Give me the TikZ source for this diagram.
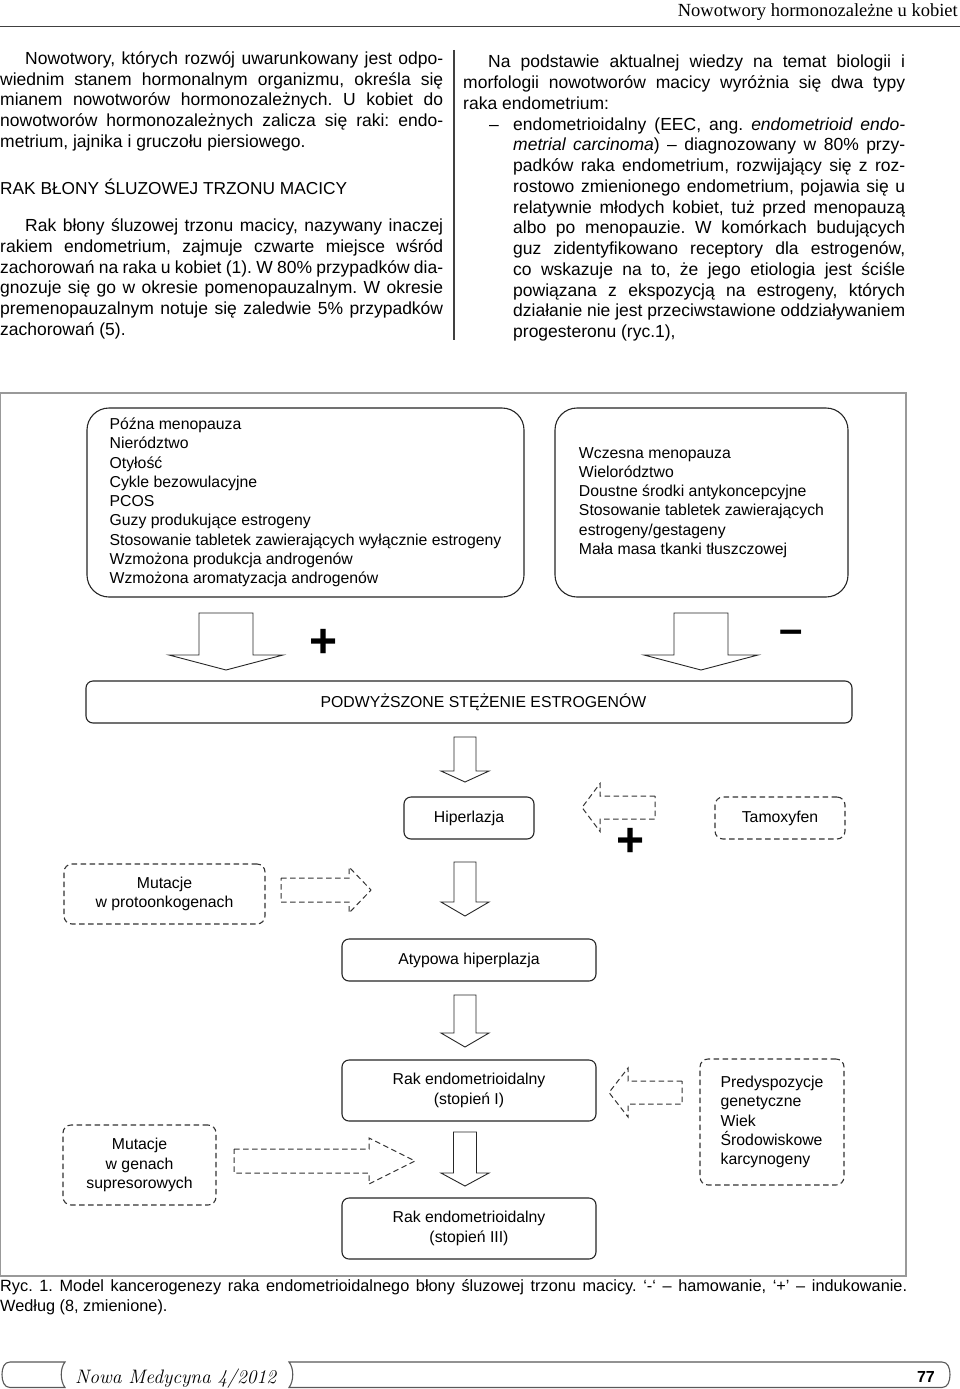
\documentclass[tikz,border=0pt]{standalone}
\usepackage{fontspec}
\newfontfamily\hsans{Liberation Sans}
\newfontfamily\tserif{Liberation Serif}
\usetikzlibrary{calc}
\newcommand\figfont{\hsans\fontsize{15.8}{19.3}\selectfont}
\newcommand\bodyfont{\hsans\fontsize{17.5}{20.75}\selectfont}
\newcommand\headfont{\hsans\fontsize{17.3}{20.75}\selectfont}
\newcommand\capfont{\hsans\fontsize{16.3}{19.4}\selectfont}
\newcommand\signfont{\hsans\bfseries\fontsize{48}{48}\selectfont}
\newcommand\justpar[2]{\parbox[t]{#1}{\frenchspacing\tolerance=10000\hyphenpenalty=10000\relax #2}}
\tikzset{
  solidbox/.style={draw=black!85, line width=1.1pt, rounded corners=7pt, inner sep=0pt, font=\figfont},
  dashbox/.style={draw=black!80, line width=1.1pt, dash pattern=on 5.5pt off 3.5pt, rounded corners=8pt, inner sep=0pt, font=\figfont},
  blockarrow/.style={draw=black!85, line width=0.9pt, fill=white, line join=miter},
  dasharrow/.style={draw=black!80, line width=1pt, dash pattern=on 5.5pt off 3.5pt},
  sign/.style={inner sep=0pt, font=\signfont},
  txt/.style={inner sep=0pt},
  frameline/.style={draw=black!40, line width=1.4pt},
  footline/.style={draw=black!65, line width=1.1pt},
}
% vertical hollow arrow: x, ytop, ybase, ytip, shaft half width, head half width
\newcommand\downblock[6]{%
  \draw[blockarrow] ({#1-#5},#2) -- ({#1+#5},#2) -- ({#1+#5},#3) -- ({#1+#6},#3) -- (#1,#4) -- ({#1-#6},#3) -- ({#1-#5},#3) -- cycle;}
% horizontal dashed hollow arrow: xtail, xbase, xtip, ycentre, shaft half width, head half width
\newcommand\sideblock[6]{%
  \draw[dasharrow] (#1,{#4-#5}) -- (#2,{#4-#5}) -- (#2,{#4-#6}) -- (#3,#4) -- (#2,{#4+#6}) -- (#2,{#4+#5}) -- (#1,{#4+#5}) -- cycle;}
\begin{document}
\begin{tikzpicture}[x=1pt,y=-1pt]
\path[fill=white,use as bounding box] (0,0) rectangle (960,1389);

% ---------- running head ----------
\node[txt, anchor=base east, font=\tserif\fontsize{18.5}{20}\selectfont] (runhead) at (958,17) {Nowotwory hormonozależne u kobiet};
\draw[black!75, line width=1.3pt] (0,26.7) -- (960,26.7);
\draw[black!75, line width=1.2pt] (454,50) -- (454,340);

% ---------- left column ----------
\node[txt, anchor=base west, font=\bodyfont] (para1) at (0,64.3) {\justpar{443pt}{\hspace*{25pt}Nowotwory, których rozwój uwarunkowany jest odpo-\linebreak wiednim stanem hormonalnym organizmu, określa się\linebreak mianem nowotworów hormonozależnych. U kobiet do\linebreak nowotworów hormonozależnych zalicza się raki: endo-\linebreak metrium, jajnika i gruczołu piersiowego.}};
\node[txt, anchor=base west, font=\headfont] (heading) at (0,194) {RAK BŁONY ŚLUZOWEJ TRZONU MACICY};
\node[txt, anchor=base west, font=\bodyfont] (para2) at (0,231.7) {\justpar{443pt}{\hspace*{25pt}Rak błony śluzowej trzonu macicy, nazywany inaczej\linebreak rakiem endometrium, zajmuje czwarte miejsce wśród\linebreak zachorowań na raka u kobiet (1). W 80\% przypadków dia-\linebreak gnozuje się go w okresie pomenopauzalnym. W okresie\linebreak premenopauzalnym notuje się zaledwie 5\% przypadków\linebreak zachorowań (5).}};

% ---------- right column ----------
\node[txt, anchor=base west, font=\bodyfont] (para3) at (463,67.7) {\justpar{442pt}{\hspace*{25pt}Na podstawie aktualnej wiedzy na temat biologii i\linebreak morfologii nowotworów macicy wyróżnia się dwa typy\linebreak raka endometrium:}};
\node[txt, anchor=base west, font=\bodyfont] (itemdash) at (489,130) {–};
\node[txt, anchor=base west, font=\bodyfont] (item) at (513,130) {\justpar{392pt}{endometrioidalny (EEC, ang. \textit{endometrioid endo-}\linebreak \textit{metrial carcinoma}) – diagnozowany w 80\% przy-\linebreak padków raka endometrium, rozwijający się z roz-\linebreak rostowo zmienionego endometrium, pojawia się u\linebreak relatywnie młodych kobiet, tuż przed menopauzą\linebreak albo po menopauzie. W komórkach budujących\linebreak guz zidentyfikowano receptory dla estrogenów,\linebreak co wskazuje na to, że jego etiologia jest ściśle\linebreak powiązana z ekspozycją na estrogeny, których\linebreak działanie nie jest przeciwstawione oddziaływaniem\linebreak progesteronu (ryc.1),}};

% ---------- figure frame ----------
\draw[frameline] (0.7,393) rectangle (906,1276);

% top boxes
\node[solidbox, rounded corners=22pt, minimum width=437, minimum height=189, align=left] (lb) at (305.5,502.5)
  {Późna menopauza\\Nierództwo\\Otyłość\\Cykle bezowulacyjne\\PCOS\\Guzy produkujące estrogeny\\Stosowanie tabletek zawierających wyłącznie estrogeny\\Wzmożona produkcja androgenów\\Wzmożona aromatyzacja androgenów};
\node[solidbox, rounded corners=22pt, minimum width=293, minimum height=189, align=left] (rb) at (701.5,502.5)
  {Wczesna menopauza\\Wielorództwo\\Doustne środki antykoncepcyjne\\Stosowanie tabletek zawierających\\estrogeny/gestageny\\Mała masa tkanki tłuszczowej};

% arrows into estrogen box
\downblock{226}{613}{655}{670}{27}{57}
\downblock{701}{613}{655}{670}{27}{57}
\node[sign] (plusA) at (324,643) {+};
\node[sign, font=\hsans\bfseries\fontsize{42}{42}\selectfont] (minusA) at (791,637) {–};

\node[solidbox, minimum width=766, minimum height=42] (est) at (469,702) {};
\node[txt, font=\figfont] (estlabel) at (483.5,702) {PODWYŻSZONE STĘŻENIE ESTROGENÓW};

\downblock{465}{737}{771}{782}{11}{24}

% hiperplazja row
\node[solidbox, minimum width=130, minimum height=42] (hip) at (469,818) {Hiperlazja};
\node[dashbox, minimum width=130, minimum height=42] (tam) at (780,818) {Tamoxyfen};
\sideblock{655}{600}{582}{807.5}{11.5}{24}
\node[sign] (plusB) at (631,842) {+};

\downblock{465}{862}{902}{916}{11}{24}

\node[dashbox, minimum width=201, minimum height=60, align=center] (mutp) at (164.5,894) {Mutacje\\w protoonkogenach};
\sideblock{281}{349}{371}{890}{12}{23}

\node[solidbox, minimum width=254, minimum height=42] (atyp) at (469,960) {Atypowa hiperplazja};

\downblock{465}{995}{1033}{1047}{11}{24}

\node[solidbox, minimum width=254, minimum height=61, align=center] (rak1) at (469,1090.5) {Rak endometrioidalny\\(stopień I)};
\node[dashbox, minimum width=144, minimum height=126, align=left] (pred) at (772,1122) {Predyspozycje\\genetyczne\\Wiek\\Środowiskowe\\karcynogeny};
\sideblock{682}{628}{609}{1092.5}{11.5}{24.5}

\downblock{465}{1132}{1173}{1186}{11.5}{24}

\node[dashbox, minimum width=153, minimum height=80, align=center] (muts) at (139.5,1165) {Mutacje\\w genach\\supresorowych};
\sideblock{234}{369}{415}{1161}{12}{23}

\node[solidbox, minimum width=254, minimum height=61, align=center] (rak3) at (469,1228.5) {Rak endometrioidalny\\(stopień III)};

% caption
\node[txt, anchor=base west, font=\capfont] (caption) at (0,1291.7) {\justpar{907pt}{Ryc. 1. Model kancerogenezy raka endometrioidalnego błony śluzowej trzonu macicy. ‘-‘ – hamowanie, ‘+’ – indukowanie.\linebreak Według (8, zmienione).}};

% ---------- footer ----------
\draw[footline] (65,1362) -- (10,1362) .. controls (4,1362) and (2,1368) .. (2,1374.5) .. controls (2,1381) and (4,1387.5) .. (10,1387.5) -- (65,1387.5) .. controls (60,1381) and (60,1368) .. (65,1362) -- cycle;
\draw[footline] (289,1362) -- (942,1362) .. controls (948,1362) and (950,1368) .. (950,1374.5) .. controls (950,1381) and (948,1387.5) .. (942,1387.5) -- (289,1387.5) .. controls (294,1381) and (294,1368) .. (289,1362) -- cycle;
\node[txt, anchor=base west, font=\fontsize{19.5}{19.5}\selectfont\itshape] (journal) at (75,1383) {Nowa Medycyna 4/2012};
\node[txt, anchor=base east, font=\hsans\bfseries\fontsize{16}{16}\selectfont] (pagenum) at (935,1382.5) {77};
\end{tikzpicture}
\end{document}
